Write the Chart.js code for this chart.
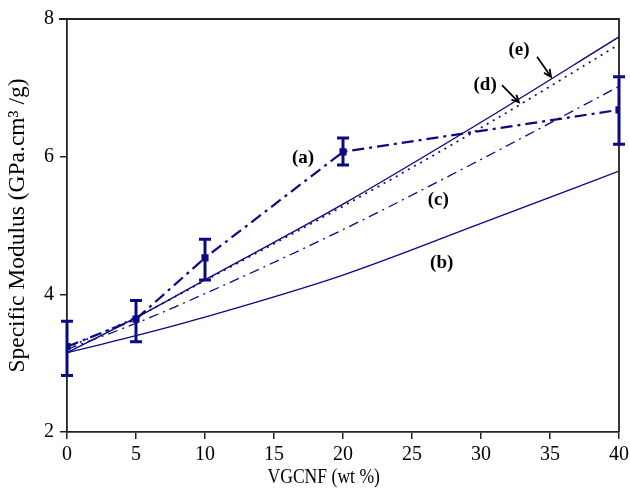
<!DOCTYPE html>
<html><head><meta charset="utf-8">
<script src="https://cdn.jsdelivr.net/npm/chart.js@4/dist/chart.umd.min.js"></script>
<style>html,body{margin:0;padding:0;background:#fff;} #wrap{width:630px;height:488px;position:relative;}</style>
</head><body><div id="wrap"><canvas id="c"></canvas></div>
<script>
// ---- data ----
const xExp   = [0, 5, 10, 20, 40];
const aVals  = [3.24, 3.64, 4.53, 6.07, 6.68];
const aErrHi = [3.61, 3.91, 4.80, 6.27, 7.16];
const aErrLo = [2.82, 3.31, 4.21, 5.88, 6.18];
const xModel = [0, 5, 10, 20, 30, 40];
const bVals  = [3.15, 3.40, 3.67, 4.28, 5.03, 5.79];
const cVals  = [3.20, 3.58, 4.01, 4.94, 5.96, 7.02];
const dVals  = [3.22, 3.67, 4.20, 5.28, 6.42, 7.63];
const eVals  = [3.15, 3.66, 4.21, 5.31, 6.50, 7.74];
const xTickVals = [0, 5, 10, 15, 20, 25, 30, 35, 40];
const yTickVals = [2, 4, 6, 8];
const xTitle = 'VGCNF (wt %)';
const yTitle = 'Specific Modulus (GPa.cm³ /g)';
const curveLabels = ['(a)', '(b)', '(c)', '(d)', '(e)'];
const labelAtX = [17.1, 27.15, 26.9, 30.3, 32.75];
const labelAtY = [5.98, 4.45, 5.37, 7.04, 7.55];
// arrows for (d) and (e): [x0,y0,x1,y1] in data units
const arrowD = [31.52, 7.04, 32.75, 6.79];
const arrowE = [34.06, 7.45, 35.07, 7.16];

const NAVY = '#0a0a82';
const FONT = "'Liberation Serif', 'Times New Roman', serif";
const pts = (xs, ys) => xs.map((x, i) => ({x, y: ys[i]}));

const extras = {
  id: 'extras',
  afterDatasetsDraw(chart) {
    const {ctx, chartArea: ca, scales: {x, y}} = chart;
    ctx.save();
    // frame top/right
    ctx.strokeStyle = '#222'; ctx.lineWidth = 1.8;
    ctx.beginPath();
    ctx.moveTo(ca.left - 8, ca.top); ctx.lineTo(ca.right, ca.top); ctx.lineTo(ca.right, ca.bottom);
    ctx.stroke();
    // error bars
    ctx.strokeStyle = NAVY; ctx.lineWidth = 3; ctx.lineCap = 'butt';
    xExp.forEach((xv, i) => {
      const px = x.getPixelForValue(xv);
      const top = y.getPixelForValue(aErrHi[i]);
      const bot = y.getPixelForValue(aErrLo[i]);
      ctx.beginPath();
      ctx.moveTo(px, top); ctx.lineTo(px, bot);
      ctx.moveTo(px - 6, top); ctx.lineTo(px + 6, top);
      ctx.moveTo(px - 6, bot); ctx.lineTo(px + 6, bot);
      ctx.stroke();
    });
    // labels
    ctx.fillStyle = '#000';
    ctx.font = "bold 19px " + FONT;
    ctx.textAlign = 'center'; ctx.textBaseline = 'middle';
    curveLabels.forEach((t, i) => {
      ctx.fillText(t, x.getPixelForValue(labelAtX[i]), y.getPixelForValue(labelAtY[i]));
    });
    // arrows
    ctx.strokeStyle = '#000'; ctx.lineWidth = 1.8;
    [arrowD, arrowE].forEach(a => {
      const x0 = x.getPixelForValue(a[0]), y0 = y.getPixelForValue(a[1]);
      const x1 = x.getPixelForValue(a[2]), y1 = y.getPixelForValue(a[3]);
      const ang = Math.atan2(y1 - y0, x1 - x0);
      ctx.beginPath();
      ctx.moveTo(x0, y0); ctx.lineTo(x1, y1);
      ctx.moveTo(x1 - 8 * Math.cos(ang - 0.45), y1 - 8 * Math.sin(ang - 0.45));
      ctx.lineTo(x1, y1);
      ctx.lineTo(x1 - 8 * Math.cos(ang + 0.45), y1 - 8 * Math.sin(ang + 0.45));
      ctx.stroke();
    });
    // x axis title (slightly condensed, left of centre as in the reference)
    ctx.font = "20px " + FONT;
    ctx.textAlign = 'center'; ctx.textBaseline = 'alphabetic';
    ctx.translate(x.getPixelForValue(18.6), 483);
    ctx.scale(0.88, 1);
    ctx.fillText(xTitle, 0, 0);
    ctx.restore();
  }
};

new Chart(document.getElementById('c'), {
  type: 'line',
  data: {
    datasets: [
      {label: '(a)', data: pts(xExp, aVals), borderColor: NAVY, backgroundColor: NAVY, borderWidth: 2.2,
       borderDash: [12, 5, 3, 5], pointStyle: 'rect', pointRadius: 3.5, tension: 0},
      {label: '(b)', data: pts(xModel, bVals), borderColor: NAVY, borderWidth: 1.4, pointRadius: 0, cubicInterpolationMode: 'monotone'},
      {label: '(c)', data: pts(xModel, cVals), borderColor: NAVY, borderWidth: 1.3, borderDash: [10, 5, 2, 5], pointRadius: 0, cubicInterpolationMode: 'monotone'},
      {label: '(d)', data: pts(xModel, dVals), borderColor: NAVY, borderWidth: 1.7, borderDash: [2, 5], pointRadius: 0, cubicInterpolationMode: 'monotone'},
      {label: '(e)', data: pts(xModel, eVals), borderColor: NAVY, borderWidth: 1.4, pointRadius: 0, cubicInterpolationMode: 'monotone'}
    ]
  },
  options: {
    responsive: true, maintainAspectRatio: false, animation: false,
    layout: {padding: {top: 19, right: 11, left: 0, bottom: 0}},
    plugins: {legend: {display: false}, tooltip: {enabled: false}},
    scales: {
      x: {
        type: 'linear', min: 0, max: 40,
        afterBuildTicks: s => { s.ticks = xTickVals.map(v => ({value: v})); },
        afterFit: s => { s.height = 56; s.paddingLeft = 0; s.paddingRight = 0; },
        grid: {drawOnChartArea: false, drawTicks: true, tickLength: 7, color: '#222', lineWidth: 1.5},
        border: {color: '#222', width: 1.8},
        ticks: {color: '#000', font: {family: FONT, size: 20}, padding: 4, maxRotation: 0},
        title: {display: false}
      },
      y: {
        min: 2, max: 8,
        afterBuildTicks: s => { s.ticks = yTickVals.map(v => ({value: v})); },
        afterFit: s => { s.width = 67; s.paddingTop = 0; s.paddingBottom = 0; },
        grid: {drawOnChartArea: false, drawTicks: true, tickLength: 7, color: '#222', lineWidth: 1.5},
        border: {color: '#222', width: 1.8},
        ticks: {color: '#000', font: {family: FONT, size: 20}, padding: 6},
        title: {display: true, text: yTitle, color: '#000', font: {family: FONT, size: 23.5}, padding: {top: 4, bottom: 0}}
      }
    }
  },
  plugins: [extras]
});
</script></body></html>
